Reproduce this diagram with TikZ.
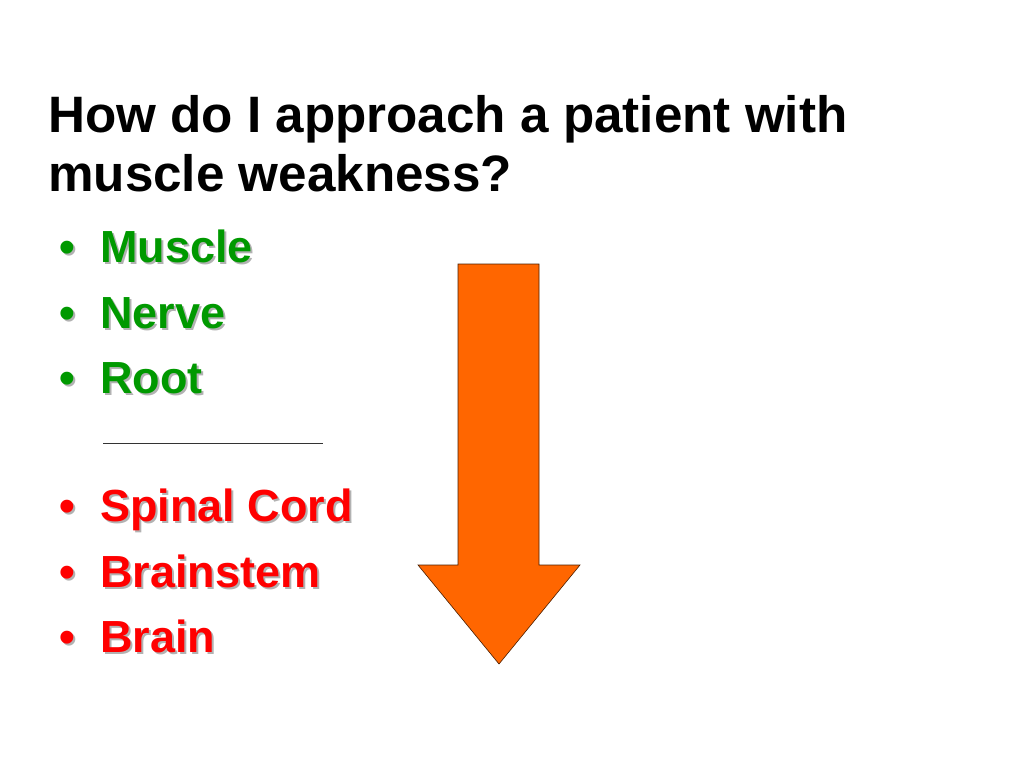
\documentclass[tikz,border=0pt]{standalone}
\usepackage{fontspec}
\setmainfont{Liberation Sans}
\definecolor{itemgreen}{HTML}{009900}
\definecolor{itemred}{HTML}{FF0000}
\definecolor{arroworange}{HTML}{FF6600}
\begin{document}
\begin{tikzpicture}[x=1pt,y=-1pt,
  every node/.style={inner sep=0pt,anchor=base west},
  titletext/.style={font=\fontsize{51.2}{58}\selectfont\bfseries},
  itemtext/.style={font=\fontsize{45}{50}\selectfont\bfseries},
  itemshadow/.style={itemtext,text=black!30}]
  \useasboundingbox (0,0) rectangle (1024,768);
  \node [titletext] (title1) at (48,132.7) {How do I approach a patient with};
  \node [titletext] (title2) at (48,191) {muscle weakness?};
  % upper and lower levels, with a soft shadow
  \foreach \name/\txt/\y/\col in {muscle/Muscle/262/itemgreen, nerve/Nerve/328/itemgreen,
      root/Root/393.5/itemgreen, cord/Spinal Cord/521.7/itemred,
      stem/Brainstem/587/itemred, brain/Brain/652.7/itemred} {
    \node [itemshadow] at (61,\y+2) {•};
    \node [itemtext,text=\col] (\name dot) at (59,\y) {•};
    \node [itemshadow] at (102,\y+2) {\txt};
    \node [itemtext,text=\col] (\name) at (100,\y) {\txt};
  }
  \draw [black!80,line width=0.8pt] (103,443) -- (323,443);
  \draw [fill=arroworange,draw=black!70!arroworange,line width=0.6pt]
    (458,264) -- (539,264) -- (539,565) -- (580,565) -- (499,664)
    -- (418,565) -- (458,565) -- cycle;
\end{tikzpicture}
\end{document}
